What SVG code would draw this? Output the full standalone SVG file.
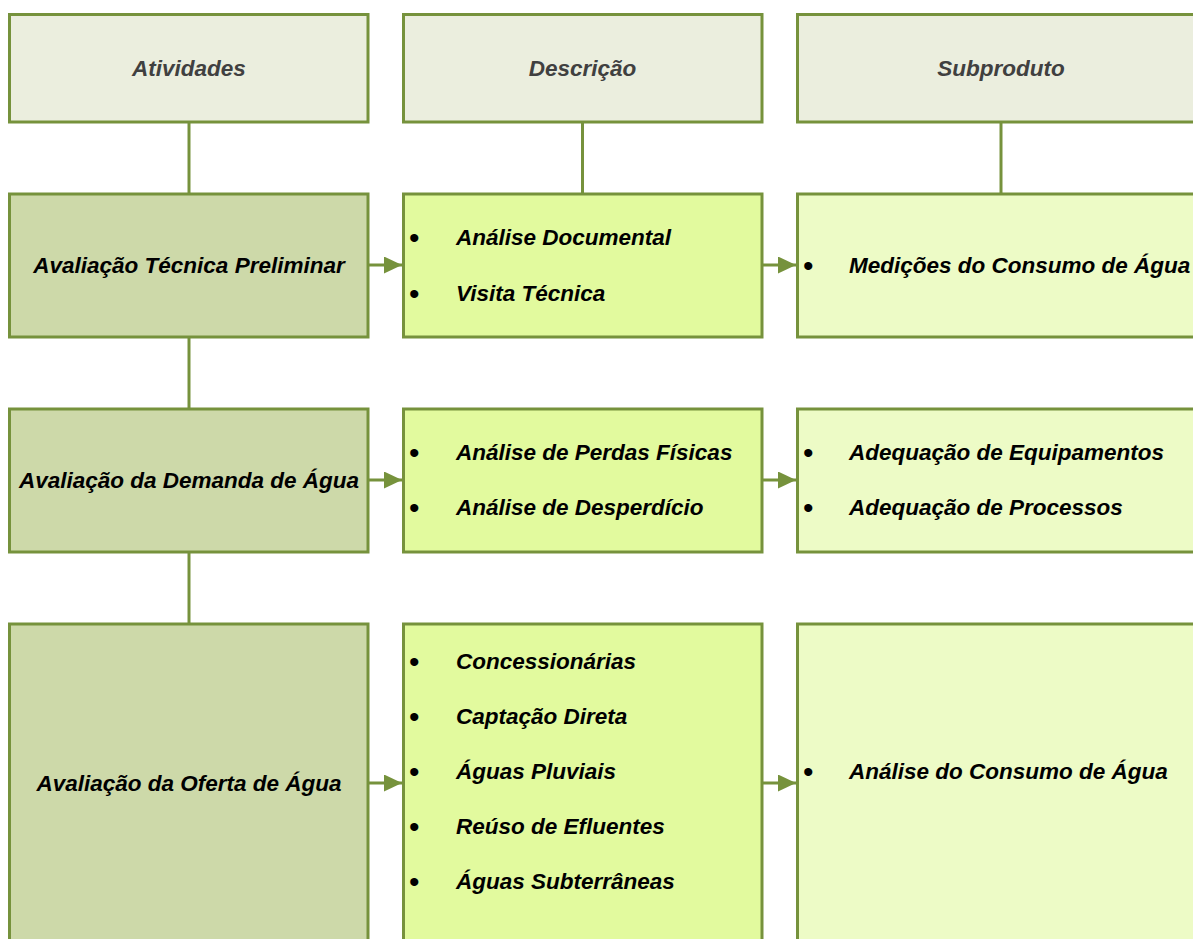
<svg xmlns="http://www.w3.org/2000/svg" width="1193" height="939" viewBox="0 0 1193 939">
<style>
  .box { stroke: #76923C; stroke-width: 3; }
  .hdr { fill: #EBEEDE; }
  .act { fill: #CDD9A9; }
  .desc { fill: #E2FA9E; }
  .sub { fill: #EDFBC6; }
  .conn { stroke: #76923C; stroke-width: 3; fill: none; }
  text { font-family: "Liberation Sans", Arial, sans-serif; font-size: 22.5px; font-weight: bold; font-style: italic; fill: #000; }
  .htxt { fill: #404040; text-anchor: middle; }
  .ctr { text-anchor: middle; }
  .bul { font-style: normal; font-weight: normal; font-size: 30px; }
</style>
<defs>
  <marker id="arr" viewBox="0 0 18 17" refX="18" refY="8.5" markerWidth="18" markerHeight="17" markerUnits="userSpaceOnUse" orient="auto">
    <path d="M0,0 L18,8.5 L0,17 z" fill="#76923C"/>
  </marker>
</defs>
<rect width="1193" height="939" fill="#fff"/>

<g id="connectors">
  <line class="conn" x1="189" y1="122" x2="189" y2="194"/>
  <line class="conn" x1="582.5" y1="122" x2="582.5" y2="194"/>
  <line class="conn" x1="1001" y1="122" x2="1001" y2="194"/>
  <line class="conn" x1="189" y1="337" x2="189" y2="409"/>
  <line class="conn" x1="189" y1="552" x2="189" y2="624"/>
  <line class="conn" x1="368" y1="265" x2="402" y2="265" marker-end="url(#arr)"/>
  <line class="conn" x1="762" y1="265" x2="796" y2="265" marker-end="url(#arr)"/>
  <line class="conn" x1="368" y1="480" x2="402" y2="480" marker-end="url(#arr)"/>
  <line class="conn" x1="762" y1="480" x2="796" y2="480" marker-end="url(#arr)"/>
  <line class="conn" x1="368" y1="783" x2="402" y2="783" marker-end="url(#arr)"/>
  <line class="conn" x1="762" y1="783" x2="796" y2="783" marker-end="url(#arr)"/>
</g>

<g id="hdr-atividades">
  <rect class="box hdr" x="9.5" y="14.5" width="358.5" height="107.5"/>
  <text class="htxt" x="189" y="76">Atividades</text>
</g>
<g id="hdr-descricao">
  <rect class="box hdr" x="403.5" y="14.5" width="358.5" height="107.5"/>
  <text class="htxt" x="582.5" y="76">Descrição</text>
</g>
<g id="hdr-subproduto">
  <rect class="box hdr" x="797.5" y="14.5" width="407" height="107.5"/>
  <text class="htxt" x="1001" y="76">Subproduto</text>
</g>

<g id="act-1">
  <rect class="box act" x="9.5" y="194" width="358.5" height="143"/>
  <text class="ctr" x="189" y="273">Avaliação Técnica Preliminar</text>
</g>
<g id="desc-1">
  <rect class="box desc" x="403.5" y="194" width="358.5" height="143"/>
  <text class="bul" x="409" y="247.5">•</text>
  <text x="456" y="245">Análise Documental</text>
  <text class="bul" x="409" y="303.5">•</text>
  <text x="456" y="301">Visita Técnica</text>
</g>
<g id="sub-1">
  <rect class="box sub" x="797.5" y="194" width="407" height="143"/>
  <text class="bul" x="803" y="275.5">•</text>
  <text x="849" y="273">Medições do Consumo de Água</text>
</g>

<g id="act-2">
  <rect class="box act" x="9.5" y="409" width="358.5" height="143"/>
  <text class="ctr" x="189" y="488">Avaliação da Demanda de Água</text>
</g>
<g id="desc-2">
  <rect class="box desc" x="403.5" y="409" width="358.5" height="143"/>
  <text class="bul" x="409" y="462.5">•</text>
  <text x="456" y="460">Análise de Perdas Físicas</text>
  <text class="bul" x="409" y="517.5">•</text>
  <text x="456" y="515">Análise de Desperdício</text>
</g>
<g id="sub-2">
  <rect class="box sub" x="797.5" y="409" width="407" height="143"/>
  <text class="bul" x="803" y="462.5">•</text>
  <text x="849" y="460">Adequação de Equipamentos</text>
  <text class="bul" x="803" y="517.5">•</text>
  <text x="849" y="515">Adequação de Processos</text>
</g>

<g id="act-3">
  <rect class="box act" x="9.5" y="624" width="358.5" height="320"/>
  <text class="ctr" x="189" y="791">Avaliação da Oferta de Água</text>
</g>
<g id="desc-3">
  <rect class="box desc" x="403.5" y="624" width="358.5" height="320"/>
  <text class="bul" x="409" y="671.5">•</text>
  <text x="456" y="669">Concessionárias</text>
  <text class="bul" x="409" y="726.5">•</text>
  <text x="456" y="724">Captação Direta</text>
  <text class="bul" x="409" y="781.5">•</text>
  <text x="456" y="779">Águas Pluviais</text>
  <text class="bul" x="409" y="836.5">•</text>
  <text x="456" y="834">Reúso de Efluentes</text>
  <text class="bul" x="409" y="891.5">•</text>
  <text x="456" y="889">Águas Subterrâneas</text>
</g>
<g id="sub-3">
  <rect class="box sub" x="797.5" y="624" width="407" height="320"/>
  <text class="bul" x="803" y="781.5">•</text>
  <text x="849" y="779">Análise do Consumo de Água</text>
</g>
</svg>
